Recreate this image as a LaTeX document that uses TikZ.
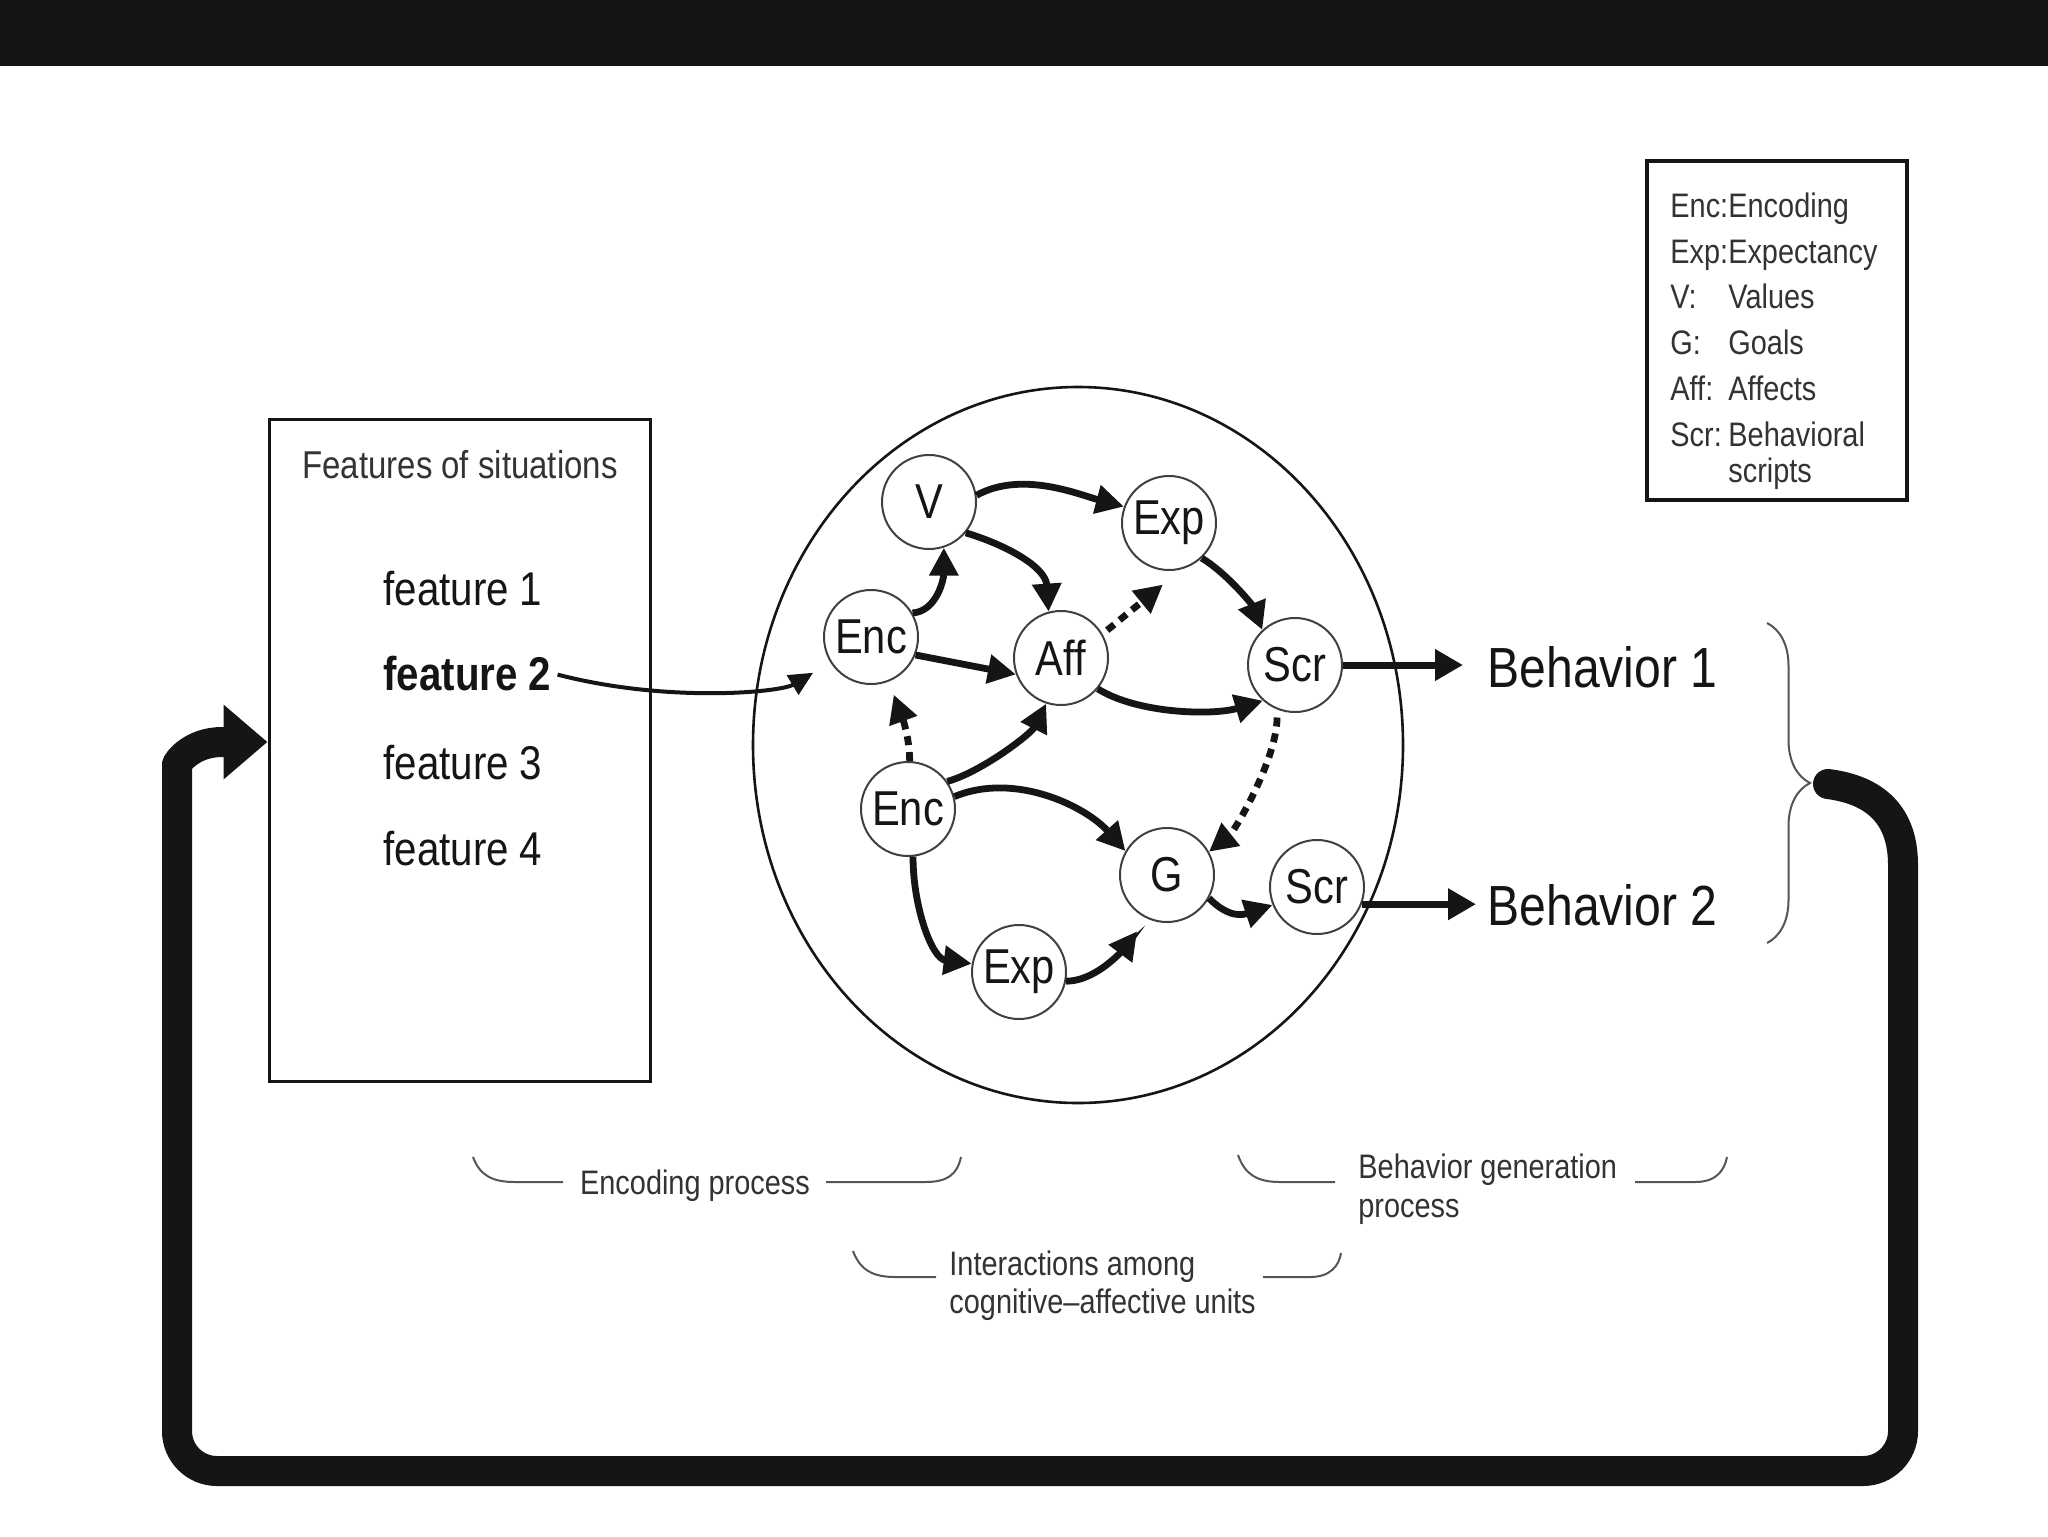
\documentclass[tikz,border=0pt]{standalone}
\usepackage{fontspec}
\setmainfont{Liberation Sans}[FakeStretch=0.85]
\usetikzlibrary{arrows.meta,shapes.geometric,decorations.pathreplacing,calc}
\definecolor{ink}{HTML}{151515}
\definecolor{softink}{HTML}{333333}
\definecolor{brkcol}{HTML}{555555}
\begin{document}
\begin{tikzpicture}[x=0.5pt,y=-0.5pt,
  unit/.style={circle,draw=black!75,line width=1pt,minimum size=47pt,inner sep=0pt,
    font=\fontsize{24.5pt}{26pt}\selectfont,text=ink},
  arr/.style={draw=ink,line width=3.4pt,-{Triangle[length=14pt,width=14pt]}},
  dotarr/.style={arr,dash pattern=on 4.5pt off 3.5pt},
  outarr/.style={draw=ink,line width=3.5pt,-{Triangle[length=14pt,width=15pt]}},
  farr/.style={draw=ink,line width=2pt,-{Triangle[length=12pt,width=11pt]}},
  fb/.style={draw=ink,line width=15pt,line cap=round,-{Triangle[length=22pt,width=36pt]}},
  feat/.style={inner sep=0pt,anchor=base west,font=\fontsize{23.7pt}{26pt}\selectfont,text=ink},
  beh/.style={inner sep=0pt,anchor=base west,font=\fontsize{28.3pt}{30pt}\selectfont,text=ink},
  leg/.style={inner sep=0pt,anchor=base west,font=\fontsize{17pt}{19pt}\selectfont,text=softink},
  lbl/.style={inner sep=0pt,font=\fontsize{17pt}{19pt}\selectfont,text=softink},
  brk/.style={draw=brkcol,line width=1pt},
  frame/.style={draw=ink,inner sep=0pt}
]
\useasboundingbox (0,0) rectangle (2048,1536);
\fill[white] (0,0) rectangle (2048,1536);
\fill[ink] (0,0) rectangle (2048,66);

% legend
\node[frame,line width=2pt,minimum width=130pt,minimum height=169.5pt] (legbox) at (1777,330.5) {};
\node[leg] (l1) at (1670,217) {\makebox[29pt][l]{Enc:}Encoding};
\node[leg] (l2) at (1670,263) {Exp:Expectancy};
\node[leg] (l3) at (1670,308) {\makebox[29pt][l]{V:}Values};
\node[leg] (l4) at (1670,354) {\makebox[29pt][l]{G:}Goals};
\node[leg] (l5) at (1670,400) {\makebox[29pt][l]{Aff:}Affects};
\node[leg] (l6) at (1670,446) {\makebox[29pt][l]{Scr:}Behavioral};
\node[leg] (l7) at (1728,482) {scripts};

% features box
\node[frame,line width=1.5pt,minimum width=190.5pt,minimum height=331pt] (featbox) at (459.5,750) {};
\node[inner sep=0pt,anchor=base,font=\fontsize{19.4pt}{21pt}\selectfont,text=softink] (fhead) at (460,478) {Features of situations};
\node[feat] (f1) at (383,605) {feature 1};
\node[feat,font=\fontsize{23.7pt}{26pt}\selectfont\bfseries] (f2) at (383,690) {feature 2};
\node[feat] (f3) at (383,779) {feature 3};
\node[feat] (f4) at (383,865) {feature 4};

% cognitive-affective system
\node[draw=ink,ellipse,line width=1.3pt,minimum width=325pt,minimum height=358pt,inner sep=0pt] (cau) at (1078,745) {};
\node[unit] (V) at (929,502) {V};
\node[unit] (Exp1) at (1169,523) {Exp};
\node[unit] (Enc1) at (871,637) {Enc};
\node[unit] (Aff) at (1061,658) {Aff};
\node[unit] (Scr1) at (1295,665) {Scr};
\node[unit] (Enc2) at (908,809) {Enc};
\node[unit] (G) at (1167,875) {G};
\node[unit] (Scr2) at (1317,887) {Scr};
\node[unit] (Exp2) at (1019,972) {Exp};

\draw[arr] (V.8) .. controls +(45,-25) and +(-45,-12) .. (Exp1.160);
\draw[arr] (V.-40) .. controls +(40,12) and +(-3,-45) .. (Aff.105);
\draw[arr] (Enc1.30) .. controls +(25,-2) and +(0,30) .. (V.-72);
\draw[arr] (Enc1.-22) -- (Aff.200);
\draw[dotarr,shorten <=3pt,shorten >=12pt] (Aff.30) -- (Exp1.-75);
\draw[arr] (Aff.-40) .. controls +(40,25) and +(-50,15) .. (Scr1.228);
\draw[arr] (Exp1.-47) .. controls +(25,15) and +(-10,-25) .. (Scr1.133);
\draw[dotarr,shorten >=7pt] (Enc2.88) .. controls +(0,-30) and +(8,22) .. (Enc1.-68);
\draw[arr] (Enc2.35) .. controls +(35,-10) and +(-15,30) .. (Aff.-108);
\draw[arr] (Enc2.15) .. controls +(60,-25) and +(-40,-45) .. (G.150);
\draw[dotarr,shorten <=4pt] (Scr1.-112) .. controls +(0,50) and +(25,-20) .. (G.29);
\draw[arr] (Enc2.-84) .. controls +(0,50) and +(-40,-5) .. (Exp2.170);
\draw[arr,shorten >=8pt] (Exp2.-11) .. controls +(35,0) and +(-15,20) .. (G.-115);
\draw[arr] (G.-29) .. controls +(20,20) and +(-30,10) .. (Scr2.202);

% feature 2 -> Enc
\draw[farr,shorten <=3pt,shorten >=10pt] (f2.east) .. controls +(115,30) and +(-50,30) .. (Enc1.212);

% behaviors
\node[beh] (B1) at (1487,687) {Behavior 1};
\node[beh] (B2) at (1487,925) {Behavior 2};
\draw[outarr,shorten >=12pt] (Scr1.east) -- (Scr1.east -| B1.west);
\draw[outarr,shorten >=5.5pt] (Scr2.-21) -- (Scr2.-21 -| B2.west);

% brace
\draw[brk,decorate,decoration={brace,amplitude=21.5pt,aspect=0.5}] (1767,623) -- (1767,943);
\coordinate (btip) at (1810,784);

% feedback loop
\coordinate (fbs) at ($(btip)+(18,0)$);
\draw[fb] (fbs) .. controls (1875,790) and (1903,815) .. (1903,865)
  [rounded corners=20pt] -- (1903,1471) -- (177,1471) -- (177,805)
  [sharp corners] .. controls (177,762) and (192,742) .. (222,742) -- ([yshift=4pt]featbox.west);

% bottom labels
\node[lbl,anchor=base] (ep) at (695,1194) {Encoding process};
\draw[brk] (473,1157) .. controls (480,1176) and (493,1182) .. (515,1182) -- (563,1182);
\draw[brk] (826,1182) -- (925,1182) .. controls (947,1182) and (957,1175) .. (961,1157);

\node[lbl,anchor=base west] (bg1) at (1358,1178) {Behavior generation};
\node[lbl,anchor=base west] (bg2) at (1358,1217) {process};
\draw[brk] (1238,1155) .. controls (1245,1175) and (1258,1182) .. (1280,1182) -- (1335,1182);
\draw[brk] (1635,1182) -- (1695,1182) .. controls (1715,1182) and (1724,1172) .. (1727,1157);

\node[lbl,anchor=base west] (ia1) at (949,1275) {Interactions among};
\node[lbl,anchor=base west] (ia2) at (949,1313) {cognitive–affective units};
\draw[brk] (853,1251) .. controls (860,1270) and (873,1277) .. (895,1277) -- (936,1277);
\draw[brk] (1263,1277) -- (1310,1277) .. controls (1330,1277) and (1339,1266) .. (1341,1253);
\end{tikzpicture}
\end{document}
